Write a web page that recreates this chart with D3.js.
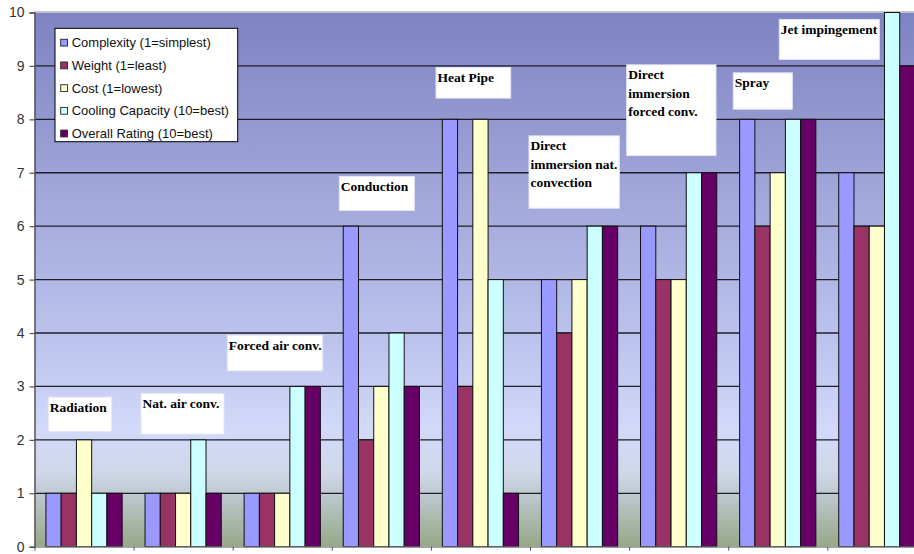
<!DOCTYPE html>
<html>
<head>
<meta charset="utf-8">
<script src="https://cdn.jsdelivr.net/npm/d3@7/dist/d3.min.js"></script>
<style>
  html, body { margin: 0; padding: 0; background: #ffffff; }
  svg { display: block; }
</style>
</head>
<body>
<svg id="chart" width="914" height="554"></svg>
<script>
// Cooling technologies rated on five criteria
const categories = ["Radiation", "Nat. air conv.", "Forced air conv.", "Conduction", "Heat Pipe",
  "Direct immersion nat. convection", "Direct immersion forced conv.", "Spray", "Jet impingement"];
const seriesNames = ["Complexity (1=simplest)", "Weight (1=least)", "Cost (1=lowest)",
  "Cooling Capacity (10=best)", "Overall Rating (10=best)"];
const complexity = [1, 1, 1, 6, 8, 5, 6, 8, 7];
const weight     = [1, 1, 1, 2, 3, 4, 5, 6, 6];
const cost       = [2, 1, 1, 3, 8, 5, 5, 7, 6];
const cooling    = [1, 2, 3, 4, 5, 6, 7, 8, 10];
const overall    = [1, 1, 3, 3, 1, 6, 7, 8, 9];
const yTicks = [0, 1, 2, 3, 4, 5, 6, 7, 8, 9, 10];

// Text of the callout box for each technology (one entry per line)
const calloutLines = [
  ["Radiation"], ["Nat. air conv."], ["Forced air conv."], ["Conduction"], ["Heat Pipe"],
  ["Direct", "immersion nat.", "convection"], ["Direct", "immersion", "forced conv."],
  ["Spray"], ["Jet impingement"]
];

// Callout placement: [x offset from category start (px), top (value units), width, height]
const calloutLayout = [
  [13.8, 2.80, 63.4, 34.4],
  [7.4, 2.87, 83, 40.7],
  [-5.4, 3.96, 95.4, 35.7],
  [7.5, 6.93, 75, 34],
  [5.1, 8.97, 74.7, 30.6],
  [-1.0, 7.69, 90.3, 72.3],
  [-2.4, 9.02, 89.3, 90.7],
  [5.1, 8.87, 59, 36.3],
  [-48, 9.87, 100, 40]
];

const colors = ["#9999ff", "#993366", "#ffffcc", "#ccffff", "#660066"];
const values = [complexity, weight, cost, cooling, overall];

const svg = d3.select("#chart");
const left = 34.5, y0px = 546.7, y10px = 12.5, step = 99.1;
const right = left + step * categories.length;

const y = d3.scaleLinear().domain([0, 10]).range([y0px, y10px]);
const x = d3.scaleBand().domain(categories).range([left, right]).padding(0);
const xs = d3.scaleBand().domain(seriesNames).range([0, x.bandwidth()])
  .paddingInner(0).paddingOuter(0.75);

// plot background gradient
const defs = svg.append("defs");
const grad = defs.append("linearGradient").attr("id", "bg")
  .attr("gradientUnits", "userSpaceOnUse")
  .attr("x1", 0).attr("x2", 0).attr("y1", y10px).attr("y2", y0px);
[[0, "#7e83c2"], [0.35, "#a2a8da"], [0.62, "#bcc4ee"], [0.78, "#d2d9f9"],
 [0.86, "#d0d8ea"], [0.92, "#b6c2c2"], [1, "#96a886"]].forEach(([o, c]) =>
  grad.append("stop").attr("offset", o).attr("stop-color", c));

svg.append("rect")
  .attr("x", left).attr("y", y(10))
  .attr("width", right - left).attr("height", y(0) - y(10))
  .attr("fill", "url(#bg)");

// top edge of the plot
svg.append("line")
  .attr("x1", left).attr("x2", right)
  .attr("y1", y(10) - 1).attr("y2", y(10) - 1)
  .attr("stroke", "#c8c8c8").attr("stroke-width", 1.2);

// horizontal gridlines
svg.append("g").selectAll("line")
  .data(yTicks.filter(t => t > 0 && t < 10))
  .join("line")
  .attr("x1", left).attr("x2", right)
  .attr("y1", d => y(d)).attr("y2", d => y(d))
  .attr("stroke", "#1e1e2a").attr("stroke-width", 1.3);

// bars
const groups = svg.append("g").selectAll("g")
  .data(categories)
  .join("g")
  .attr("transform", d => `translate(${x(d)},0)`);

groups.selectAll("rect")
  .data((c, i) => seriesNames.map((s, k) => ({ s, k, v: values[k][i] })))
  .join("rect")
  .attr("x", d => xs(d.s))
  .attr("y", d => y(d.v))
  .attr("width", xs.bandwidth())
  .attr("height", d => y(0) - y(d.v))
  .attr("fill", d => colors[d.k])
  .attr("stroke", "#111")
  .attr("stroke-width", 1);

// y axis
const yAxis = svg.append("g")
  .attr("transform", `translate(${left},0)`)
  .call(d3.axisLeft(y).tickValues(yTicks).tickFormat(d3.format("d")).tickSize(5).tickPadding(5));
yAxis.select(".domain").attr("stroke", "#555").attr("stroke-width", 1.5);
yAxis.selectAll(".tick line").attr("stroke", "#555").attr("stroke-width", 1.2);
yAxis.selectAll(".tick text")
  .attr("font-family", "'Liberation Sans', Arial, sans-serif")
  .attr("font-size", 14).attr("fill", "#333");

// x axis: tick marks at category boundaries, no labels
const xb = d3.scaleLinear().domain([0, categories.length]).range([left, right]);
const xAxis = svg.append("g")
  .attr("transform", `translate(0,${y(0)})`)
  .call(d3.axisBottom(xb).tickValues(d3.range(categories.length + 1)).tickFormat("").tickSize(4).tickSizeOuter(0));
xAxis.select(".domain").attr("stroke", "#888").attr("stroke-width", 1.3);
xAxis.selectAll(".tick line").attr("stroke", "#555");

// callout boxes
const callouts = svg.append("g").selectAll("g")
  .data(categories)
  .join("g")
  .attr("transform", (c, i) => `translate(${x(c) + calloutLayout[i][0]},${y(calloutLayout[i][1])})`);

callouts.append("rect")
  .attr("width", (c, i) => calloutLayout[i][2])
  .attr("height", (c, i) => calloutLayout[i][3])
  .attr("fill", "#ffffff")
  .attr("stroke", "#e4e6f4").attr("stroke-width", 1);

callouts.append("text")
  .attr("font-family", "'Liberation Serif', 'Times New Roman', serif")
  .attr("font-weight", "bold")
  .attr("font-size", 13.5)
  .attr("fill", "#000")
  .selectAll("tspan")
  .data((c, i) => calloutLines[i])
  .join("tspan")
  .attr("x", 1.5)
  .attr("y", (d, j) => 14.5 + j * 18.3)
  .text(d => d);

// legend
const legend = svg.append("g").attr("transform", "translate(55,28.3)");
legend.append("rect")
  .attr("width", 182.7).attr("height", 113.4)
  .attr("fill", "#ffffff").attr("stroke", "#000").attr("stroke-width", 1);
const items = legend.selectAll("g.item")
  .data(seriesNames)
  .join("g")
  .attr("class", "item")
  .attr("transform", (d, i) => `translate(0,${14.4 + i * 22.7})`);
items.append("rect")
  .attr("x", 5.7).attr("y", -3.4)
  .attr("width", 6.8).attr("height", 6.8)
  .attr("fill", (d, i) => colors[i])
  .attr("stroke", "#222").attr("stroke-width", 0.9);
items.append("text")
  .attr("x", 16.7).attr("y", 0).attr("dy", "0.35em")
  .attr("font-family", "'Liberation Sans', Arial, sans-serif")
  .attr("font-size", 13).attr("fill", "#111")
  .text(d => d);
</script>
</body>
</html>
